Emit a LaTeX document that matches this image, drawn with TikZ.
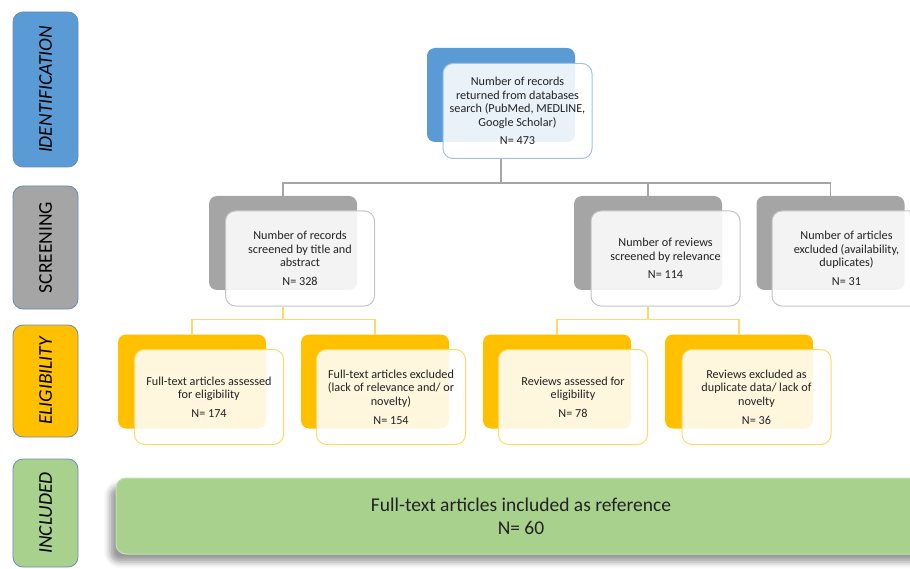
\documentclass[tikz,border=0pt]{standalone}
\usepackage{fontspec}
\setmainfont{Carlito}
\usepackage{xcolor}
\usepackage{tikz}
\usetikzlibrary{positioning,arrows.meta,calc,shadows.blur}

\definecolor{idblue}{HTML}{5B9BD5}
\definecolor{idedge}{HTML}{9DC3E6}
\definecolor{scrgray}{HTML}{A5A5A5}
\definecolor{scredge}{HTML}{C4C4C4}
\definecolor{eliyellow}{HTML}{FFC000}
\definecolor{eliedge}{HTML}{FFD966}
\definecolor{incgreen}{HTML}{A9D18E}
\definecolor{incedge}{HTML}{C5E0B4}
\definecolor{phaseedge}{HTML}{6A8CB4}
\definecolor{textgray}{HTML}{222222}

\begin{document}
\begin{tikzpicture}[x=1pt, y=-1pt,
    every node/.style={font=\fontsize{12.2}{13.6}\selectfont, align=center, text=textgray},
    back/.style={rounded corners=8pt, minimum width=148pt, minimum height=94pt, inner sep=0pt},
    front/.style={draw, line width=1pt, fill=white, fill opacity=0.87, text opacity=1,
                  rounded corners=10pt, minimum width=149pt, minimum height=95pt, inner sep=2pt},
    phase/.style={draw=phaseedge, line width=0.8pt, rounded corners=10pt, rotate=90,
                  minimum height=65pt, inner sep=0pt, text=black,
                  font=\fontsize{19.5}{21}\selectfont},
    graylink/.style={draw=scrgray, line width=1.2pt},
    yellowlink/.style={draw=eliedge, line width=1.4pt}]
  \clip (0,0) rectangle (910,569);

  % phase labels
  \node[phase, fill=idblue, minimum width=155pt] (pid) at (45.5,89.5) {\itshape IDENTIFICATION};
  \node[phase, fill=scrgray, minimum width=123pt] (pscr) at (45.5,247.5) {SCREENING};
  \node[phase, fill=eliyellow, minimum width=112pt] (peli) at (45.5,381) {\itshape ELIGIBILITY};
  \node[phase, fill=incgreen, minimum width=108pt] (pinc) at (45.5,513) {\itshape INCLUDED};

  % identification
  \node[back, fill=idblue] (idb) at (501,95) {};
  \node[front, draw=idedge] (id) at (517.5,111)
        {Number of records\\returned from databases\\search (PubMed, MEDLINE,\\Google Scholar)\\[5pt]N= 473};

  % screening
  \node[back, fill=scrgray] (scrb) at (283,243) {};
  \node[front, draw=scredge] (scr) at (300,258.5)
        {Number of records\\screened by title and\\abstract\\[5pt]N= 328};
  \node[back, fill=scrgray] (revb) at (648,243) {};
  \node[front, draw=scredge] (rev) at (665.5,258.5)
        {Number of reviews\\screened by relevance\\[5pt]N= 114};
  \node[back, fill=scrgray] (excb) at (830.5,243) {};
  \node[front, draw=scredge] (exc) at (846.5,258.5)
        {Number of articles\\excluded (availability,\\duplicates)\\[5pt]N= 31};

  % eligibility
  \node[back, fill=eliyellow] (ftab) at (192,381.5) {};
  \node[front, draw=eliedge] (fta) at (209,397)
        {Full-text articles assessed\\for eligibility\\[5pt]N= 174};
  \node[back, fill=eliyellow] (fteb) at (375,381.5) {};
  \node[front, draw=eliedge] (fte) at (391,397)
        {Full-text articles excluded\\(lack of relevance and/ or\\novelty)\\[5pt]N= 154};
  \node[back, fill=eliyellow] (rvab) at (557,381.5) {};
  \node[front, draw=eliedge] (rva) at (573,397)
        {Reviews assessed for\\eligibility\\[5pt]N= 78};
  \node[back, fill=eliyellow] (rveb) at (739,381.5) {};
  \node[front, draw=eliedge] (rve) at (756.5,397)
        {Reviews excluded as\\duplicate data/ lack of\\novelty\\[5pt]N= 36};

  % included
  \node[draw=incedge, line width=1pt, fill=incgreen, rounded corners=10pt,
        minimum width=810pt, minimum height=76pt,
        blur shadow={shadow xshift=-6pt, shadow yshift=-8pt, shadow blur radius=6pt},
        font=\fontsize{19.5}{23}\selectfont] (incl) at (521,516)
        {Full-text articles included as reference\\N= 60};

  % connectors
  \draw[graylink] (id.south -| idb) -- ++(0,24) coordinate (split1);
  \draw[graylink] (scrb.north) |- (split1) -| (excb.north);
  \draw[graylink] (split1) -| (revb.north);
  \draw[yellowlink] (scr.south -| scrb) -- ++(0,13) coordinate (split2);
  \draw[yellowlink] (ftab.north) |- (split2) -| (fteb.north);
  \draw[yellowlink] (rev.south -| revb) -- ++(0,13) coordinate (split3);
  \draw[yellowlink] (rvab.north) |- (split3) -| (rveb.north);
\end{tikzpicture}
\end{document}
